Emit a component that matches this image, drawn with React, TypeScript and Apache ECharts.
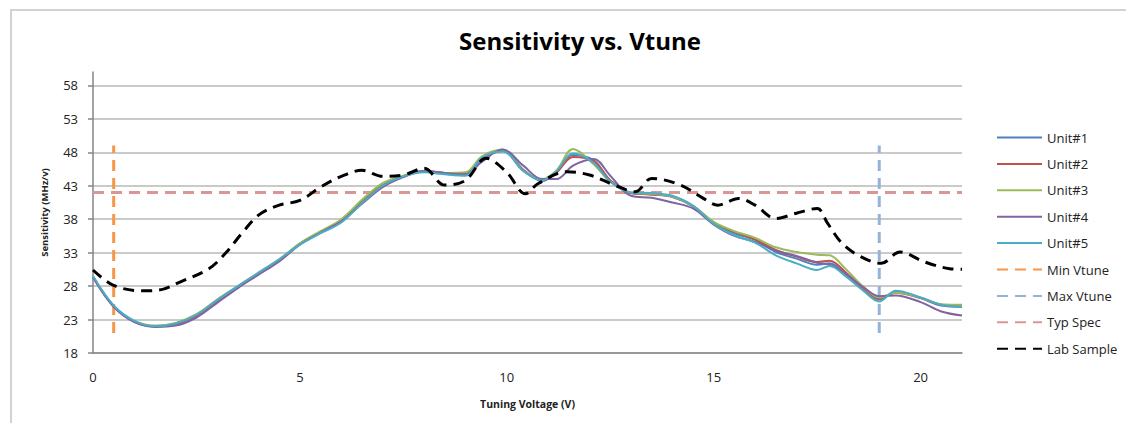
import React, { useEffect, useRef } from "react";
import * as echarts from "echarts";

const VT = [0, 0.5, 1, 1.5, 2, 2.5, 3, 3.5, 4, 4.5, 5, 5.5, 6, 6.5, 7, 7.5, 8, 8.5, 9, 9.4, 9.9, 10.4, 10.85, 11.2, 11.6, 12.1, 12.5, 13, 13.5, 14, 14.5, 15, 15.5, 16, 16.5, 17, 17.5, 17.8, 18.2, 18.6, 19, 19.4, 20, 20.5, 21];

const UNIT1 = [29.4, 25.0, 22.7, 22.0, 22.3, 23.6, 25.8, 27.9, 29.9, 31.9, 34.3, 36.0, 37.6, 40.5, 43.0, 44.4, 45.1, 44.8, 44.6, 47.0, 48.3, 45.4, 43.7, 45.0, 47.6, 46.8, 43.8, 41.9, 41.7, 41.3, 39.9, 37.4, 35.9, 34.9, 33.1, 32.1, 31.2, 31.4, 29.7, 27.6, 26.0, 27.1, 26.2, 25.1, 24.9];
const UNIT2 = [29.4, 25.0, 22.7, 22.0, 22.3, 23.6, 25.8, 27.9, 29.9, 31.9, 34.3, 36.1, 37.7, 40.6, 43.1, 44.4, 45.2, 44.9, 44.8, 47.1, 48.2, 45.3, 43.8, 45.0, 47.3, 46.7, 43.8, 41.9, 41.7, 41.4, 40.0, 37.5, 36.1, 35.0, 33.4, 32.4, 31.6, 31.8, 30.0, 27.7, 26.1, 27.0, 26.2, 25.2, 25.0];
const UNIT3 = [29.4, 25.0, 22.8, 22.1, 22.5, 23.8, 26.0, 28.0, 30.0, 32.0, 34.4, 36.2, 38.0, 40.9, 43.4, 44.5, 45.2, 44.9, 45.0, 47.4, 48.4, 45.2, 44.0, 45.3, 48.5, 46.2, 43.6, 42.0, 41.8, 41.4, 40.0, 37.6, 36.2, 35.2, 33.8, 33.1, 32.7, 32.6, 30.5, 28.0, 26.3, 27.0, 26.3, 25.3, 25.2];
const UNIT4 = [29.3, 24.9, 22.6, 21.9, 22.1, 23.3, 25.5, 27.7, 29.7, 31.7, 34.2, 36.0, 37.7, 40.3, 42.8, 44.3, 45.2, 44.9, 44.7, 46.6, 48.4, 46.0, 44.0, 44.0, 46.0, 47.0, 44.5, 41.5, 41.2, 40.5, 39.6, 37.2, 35.5, 34.6, 33.3, 32.5, 31.5, 31.2, 29.8, 27.9, 26.5, 26.6, 25.6, 24.2, 23.6];
const UNIT5 = [29.5, 25.1, 22.8, 22.0, 22.4, 23.7, 25.9, 28.0, 30.0, 32.0, 34.2, 35.9, 37.5, 40.4, 43.0, 44.4, 45.0, 44.7, 44.5, 47.2, 48.1, 45.2, 43.8, 45.2, 47.8, 46.4, 43.6, 42.0, 41.9, 41.5, 40.0, 37.3, 35.6, 34.5, 32.6, 31.4, 30.4, 31.0, 29.4, 27.4, 25.7, 27.3, 26.3, 25.2, 24.9];

const LAB_V = [0, 0.5, 1.2, 1.6, 2.1, 2.8, 3.2, 3.6, 4.0, 4.5, 5.0, 5.5, 6.0, 6.5, 7.0, 7.5, 8.0, 8.5, 9.0, 9.5, 10.0, 10.45, 10.75, 11.45, 12.0, 12.6, 13.1, 13.5, 14.2, 14.7, 15.1, 15.6, 16.0, 16.5, 17.0, 17.5, 17.75, 18.1, 18.55, 19.05, 19.5, 20.1, 20.7, 21];
const LAB = [30.4, 28.1, 27.3, 27.4, 28.6, 30.6, 32.9, 35.9, 38.6, 40.1, 40.8, 42.8, 44.4, 45.3, 44.4, 44.6, 45.6, 43.1, 43.8, 47.1, 45.0, 41.8, 43.3, 45.1, 44.6, 43.1, 42.1, 44.1, 43.1, 41.3, 40.1, 41.1, 40.1, 38.1, 38.9, 39.6, 37.4, 34.4, 32.4, 31.4, 33.1, 31.6, 30.6, 30.5];

const MIN_VTUNE_X = [0.5, 0.5];
const MIN_VTUNE_Y = [21, 49];
const MAX_VTUNE_X = [19, 19];
const MAX_VTUNE_Y = [21, 49];
const TYP_SPEC_X = [0, 21];
const TYP_SPEC_Y = [42, 42];

const Y_TICKS = [18, 23, 28, 33, 38, 43, 48, 53, 58];
const X_TICKS = [0, 5, 10, 15, 20];

const NAMES = ["Unit#1", "Unit#2", "Unit#3", "Unit#4", "Unit#5", "Min Vtune", "Max Vtune", "Typ Spec", "Lab Sample"];
const COLORS = ["#4F81BD", "#C0504D", "#9BBB59", "#8064A2", "#4BACC6", "#F79646", "#95B3D7", "#D99694", "#000000"];

const FONT = "'Open Sans', Lato, sans-serif";

function pairs(xs: number[], ys: number[]) {
  return xs.map((x, i) => [x, ys[i]]);
}

export default function App() {
  const ref = useRef<HTMLDivElement>(null);
  useEffect(() => {
    if (!ref.current) return;
    const chart = echarts.init(ref.current, undefined, { renderer: "svg" });
    const units = [UNIT1, UNIT2, UNIT3, UNIT4, UNIT5];
    const series: any[] = units.map((u, i) => ({
      name: NAMES[i],
      type: "line",
      data: pairs(VT, u),
      smooth: 0.35,
      showSymbol: false,
      symbol: "none",
      lineStyle: { color: COLORS[i], width: 2 },
      itemStyle: { color: COLORS[i] },
      z: 3,
    }));
    const dashed = (name: string, idx: number, data: number[][], smooth: any, width: number) => ({
      name,
      type: "line",
      data,
      smooth,
      showSymbol: false,
      symbol: "none",
      lineStyle: { color: COLORS[idx], width, type: [11, 7] },
      itemStyle: { color: COLORS[idx] },
      z: idx === 8 ? 4 : 2,
    });
    series.push(dashed(NAMES[5], 5, pairs(MIN_VTUNE_X, MIN_VTUNE_Y), false, 3));
    series.push(dashed(NAMES[6], 6, pairs(MAX_VTUNE_X, MAX_VTUNE_Y), false, 3));
    series.push(dashed(NAMES[7], 7, pairs(TYP_SPEC_X, TYP_SPEC_Y), false, 3));
    series.push(dashed(NAMES[8], 8, pairs(LAB_V, LAB), 0.35, 3));

    chart.setOption({
      animation: false,
      backgroundColor: "#ffffff",
      textStyle: { fontFamily: FONT },
      title: {
        text: "Sensitivity vs. Vtune",
        left: 575,
        top: 23,
        textAlign: "center",
        textStyle: { fontFamily: FONT, fontSize: 24, fontWeight: "bold", color: "#000" },
      },
      graphic: [
        {
          type: "rect",
          shape: { x: 11, y: 10, width: 1130, height: 430 },
          style: { fill: "none", stroke: "#c4c4c4", lineWidth: 1.5 },
          silent: true,
          z: -10,
        },
      ],
      legend: {
        orient: "vertical",
        left: 996,
        top: 131,
        itemWidth: 45,
        itemHeight: 14,
        itemGap: 13.4,
        data: NAMES,
        itemStyle: { opacity: 0 },
        textStyle: { fontFamily: FONT, fontSize: 13, color: "#222" },
        padding: 0,
      },
      grid: { left: 93, right: 164, top: 72, bottom: 70, containLabel: false },
      xAxis: {
        type: "value",
        min: 0,
        max: 21,
        interval: 5,
        name: "Tuning Voltage (V)",
        nameLocation: "middle",
        nameGap: 45,
        nameTextStyle: { fontFamily: FONT, fontSize: 10.5, fontWeight: "bold", color: "#222" },
        axisLine: { show: true, lineStyle: { color: "#868686", width: 1.5 } },
        axisTick: { show: false },
        splitLine: { show: false },
        axisLabel: {
          customValues: X_TICKS,
          margin: 17,
          fontFamily: FONT,
          fontSize: 13,
          color: "#222",
        },
      },
      yAxis: {
        type: "value",
        min: 18,
        max: 60,
        interval: 5,
        name: "Sensitivity (MHz/v)",
        nameLocation: "middle",
        nameGap: 44,
        nameTextStyle: { fontFamily: FONT, fontSize: 9.5, fontWeight: "bold", color: "#222" },
        axisLine: { show: true, lineStyle: { color: "#868686", width: 1.5 } },
        axisTick: { show: true, customValues: Y_TICKS, length: 5, lineStyle: { color: "#868686", width: 1.5 } },
        splitLine: { show: true, lineStyle: { color: "#b8b8b8", width: 1.5 } },
        axisLabel: {
          customValues: Y_TICKS,
          margin: 15,
          fontFamily: FONT,
          fontSize: 13,
          color: "#222",
        },
      },
      series,
    });
    return () => chart.dispose();
  }, []);
  return (
    <div
      ref={ref}
      style={{ position: "absolute", left: 0, top: 0, width: 1126, height: 423 }}
    />
  );
}
